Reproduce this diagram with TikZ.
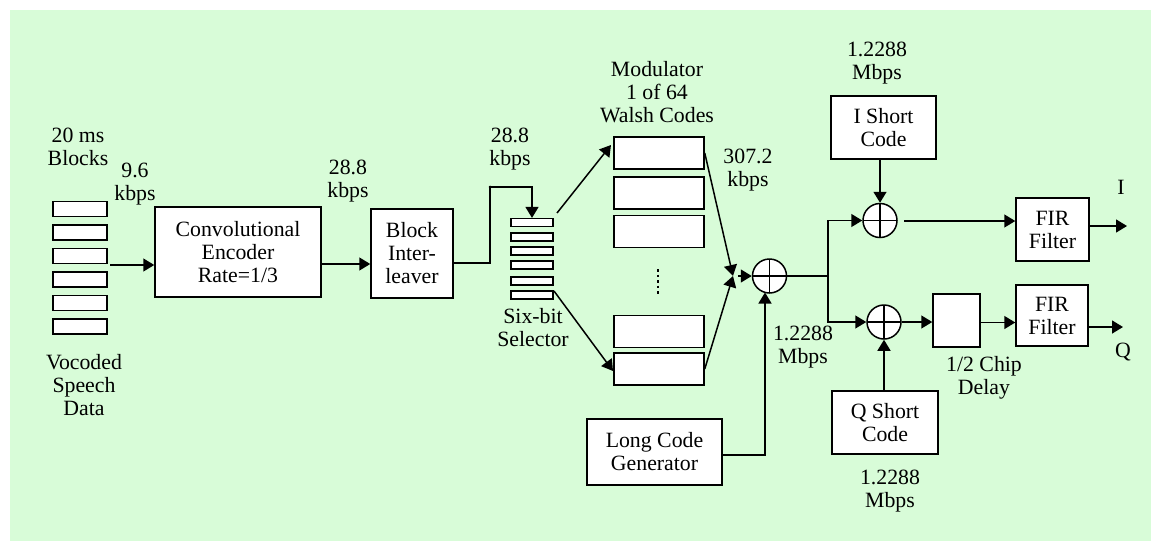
\documentclass[tikz,border=0pt]{standalone}
\usepackage{fontspec}
\setmainfont{Liberation Serif}
\usetikzlibrary{arrows.meta}
\definecolor{bggreen}{RGB}{216,252,216}
\begin{document}
\begin{tikzpicture}[x=1pt,y=-1pt,
  font=\rmfamily\fontsize{21.8}{23}\selectfont,
  line width=1.5pt,
  box/.style={draw,fill=white,align=center,inner sep=0pt},
  lbl/.style={align=center,inner sep=0pt},
  arr/.style={-{Triangle[length=11pt,width=13pt]}},
  xorc/.style={circle,draw,fill=white,minimum size=34pt,inner sep=0pt,
    path picture={\draw[line width=1.5pt] (path picture bounding box.north) -- (path picture bounding box.south)
      (path picture bounding box.west) -- (path picture bounding box.east);}}
]
\useasboundingbox (0,0) rectangle (1151,541);
\fill[bggreen] (10,10) rectangle (1151,541);

% speech data blocks
\foreach \i/\y in {1/209,2/232.5,3/256,4/279.5,5/303,6/326.5}
  \node[box,minimum width=54pt,minimum height=15pt] (v\i) at (80,\y) {};
\node[lbl] (blk) at (78,147) {20 ms\\Blocks};
\node[lbl] (r96) at (135,184) {9.6\\kbps};
\node[lbl] (voc) at (84,385) {Vocoded\\Speech\\Data};

% encoder
\node[box,minimum width=166pt,minimum height=90pt] (enc) at (238,252) {Convolutional\\Encoder\\Rate=1/3};
\coordinate (vin) at (110,265);
\draw[arr] (vin) -- (vin -| enc.west);
\node[lbl] (r288a) at (348,181) {28.8\\kbps};

% interleaver
\node[box,minimum width=82pt,minimum height=89pt] (il) at (412,253.5) {Block\\Inter-\\leaver};
\coordinate (eo) at (321,264);
\draw[arr] (eo) -- (eo -| il.west);

% selector
\foreach \i/\y in {1/222.5,2/237,3/251,4/265,5/281,6/295}
  \node[box,minimum width=42pt,minimum height=8pt,line width=1.2pt] (s\i) at (532,\y) {};
\node[lbl] (sel) at (533,328) {Six-bit\\Selector};
\node[lbl] (r288b) at (510,149) {28.8\\kbps};
\coordinate (ilo) at (453,263);
\coordinate (c1) at (490,263);
\coordinate (c2) at (490,187);
\draw[arr] (ilo) -- (c1) -- (c2) -| (s1.north);
\fill (c2) circle (1.5pt);

% Walsh codes
\foreach \i/\y in {1/153,2/193,3/231.5,4/331.5,5/369}
  \node[box,minimum width=90pt,minimum height=32pt] (w\i) at (659,\y) {};
\node[lbl] (mod) at (657,92) {Modulator\\1 of 64\\Walsh Codes};
\draw[line width=1.6pt,dash pattern=on 2.5pt off 3pt] (658,269) -- (658,295);
\coordinate (sa1) at (557,213);
\coordinate (sa2) at (611,145);
\coordinate (sb1) at (554,291);
\coordinate (sb2) at (613,371);
\draw[arr] (sa1) -- (sa2);
\draw[arr] (sb1) -- (sb2);

% main xor
\node[xorc] (x0) at (769.5,276) {};
\coordinate (cv) at (733,276);
\coordinate (cv2) at (738,276);
\draw[arr] (w1.east) -- (cv);
\draw[arr] (w5.east) -- (cv);
\draw[arr] (cv2) -- (x0.west);
\node[lbl] (r307) at (748,170) {307.2\\kbps};
\node[lbl] (m1) at (803,347) {1.2288\\Mbps};

% long code
\node[box,minimum width=135pt,minimum height=66pt] (lc) at (654.5,452) {Long Code\\Generator};
\coordinate (lcc) at (765,455);
\coordinate (lct) at (765,292.5);
\draw[arr] (lc.east |- lcc) -- (lcc) -- (lct);

% branch
\node[xorc] (xi) at (880,220.5) {};
\node[xorc] (xq) at (884,322) {};
\coordinate (br) at (828,276);
\draw (x0.east) -- (br);
\draw[arr] (br) |- (xi.west);
\draw[arr] (br) |- (xq.west);

% I short code
\node[box,minimum width=105pt,minimum height=63pt] (is) at (883.5,127.5) {I Short\\Code};
\node[lbl] (m2) at (877,63) {1.2288\\Mbps};
\draw[arr] (xi.north |- is.south) -- (xi.north);

% FIR I
\node[box,minimum width=73pt,minimum height=63pt] (fir1) at (1052.5,229.5) {FIR\\Filter};
\coordinate (xio) at (904,221);
\draw[arr] (xio) -- (xio -| fir1.west);
\coordinate (f1o) at (1089,226);
\coordinate (f1e) at (1127,226);
\draw[arr] (f1o) -- (f1e);
\node[lbl] (il2) at (1121,187) {I};

% Q path
\node[box,minimum width=47pt,minimum height=53pt] (dl) at (956.5,320.5) {};
\node[lbl] (dll) at (984,378) {1/2 Chip\\Delay};
\draw[arr] (xq.east) -- (xq.east -| dl.west);
\node[box,minimum width=72pt,minimum height=61pt] (fir2) at (1052,315.5) {FIR\\Filter};
\coordinate (dlo) at (980,322.5);
\draw[arr] (dlo) -- (dlo -| fir2.west);
\coordinate (f2o) at (1088,327);
\coordinate (f2e) at (1123,327);
\draw[arr] (f2o) -- (f2e);
\node[lbl] (ql) at (1123,352) {Q};

% Q short code
\node[box,minimum width=106pt,minimum height=63pt] (qs) at (885,422.5) {Q Short\\Code};
\node[lbl] (m3) at (890,491) {1.2288\\Mbps};
\draw[arr] (xq.south |- qs.north) -- (xq.south);
\end{tikzpicture}
\end{document}
